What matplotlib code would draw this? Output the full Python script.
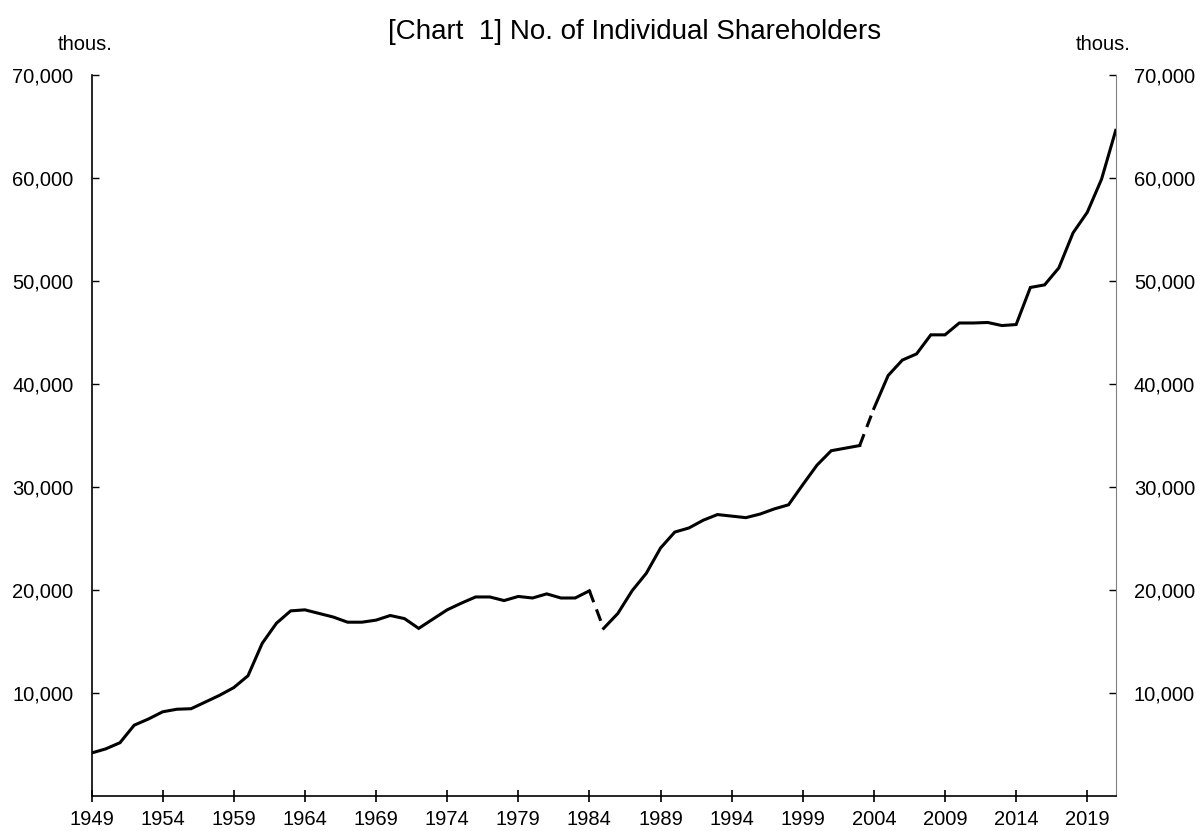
import matplotlib.pyplot as plt
from matplotlib.ticker import FuncFormatter

plt.rcParams['font.family'] = ['Liberation Sans', 'DejaVu Sans']

# Number of individual shareholders (thousands), 1949-2021
years = list(range(1949, 2022))
holders = [
    4200, 4600, 5200, 6900, 7500, 8200, 8450, 8500, 9150, 9800,      # 1949-1958
    10550, 11700, 14850, 16800, 18000, 18100, 17750, 17400, 16900, 16900,  # 1959-1968
    17100, 17550, 17250, 16300, 17200, 18100, 18750, 19350, 19350, 19000,  # 1969-1978
    19400, 19250, 19650, 19250, 19250, 19950, 16300, 17750, 19950, 21650,  # 1979-1988
    24100, 25650, 26050, 26800, 27350, 27200, 27050, 27400, 27900, 28300,  # 1989-1998
    30250, 32150, 33550, 33800, 34050, 37650, 40850, 42350, 42950, 44800,  # 1999-2008
    44800, 45950, 45950, 46000, 45700, 45800, 49400, 49650, 51300, 54700,  # 2009-2018
    56700, 59900, 64650,                                                   # 2019-2021
]
# years where the series breaks (drawn dashed to the next year)
breaks = [1984, 2003]

fig = plt.figure(figsize=(12.01, 8.31), dpi=100)
ax = fig.add_axes([0.0762, 0.0418, 0.8528, 0.8676])

# solid pieces between the breaks
start = 0
for b in breaks + [years[-1]]:
    end = years.index(b)
    ax.plot(years[start:end + 1], holders[start:end + 1], color='black', lw=2.2,
            solid_joinstyle='miter')
    start = end + 1

# dashed links across the breaks
for b in breaks:
    i = years.index(b)
    ax.plot(years[i:i + 2], holders[i:i + 2], color='black', lw=2.2,
            linestyle=(0, (4, 2.5)))

ax.set_xlim(1949, 2021)
ax.set_ylim(0, 70000)
ax.set_xticks(list(range(1949, 2022, 5)))
ax.set_yticks(list(range(10000, 70001, 10000)))
ax.yaxis.set_major_formatter(FuncFormatter(lambda v, p: f'{int(v):,}'))

ax.spines['top'].set_visible(False)
ax.spines['right'].set_color('#808080')
ax.spines['left'].set_linewidth(1.2)
ax.spines['bottom'].set_linewidth(1.2)

ax.tick_params(axis='x', direction='inout', length=8, width=1.2, pad=6, labelsize=14.5)
ax.tick_params(axis='y', direction='in', length=5, width=1.0, pad=13, labelsize=14.5,
               right=True, labelright=True)

fig.text(0.528, 0.962, '[Chart  1] No. of Individual Shareholders', ha='center',
         va='center', fontsize=20)
fig.text(0.0712, 0.9465, 'thous.', ha='center', va='center', fontsize=14.5)
fig.text(0.9188, 0.9465, 'thous.', ha='center', va='center', fontsize=14.5)

plt.savefig('out.png', dpi=100)
